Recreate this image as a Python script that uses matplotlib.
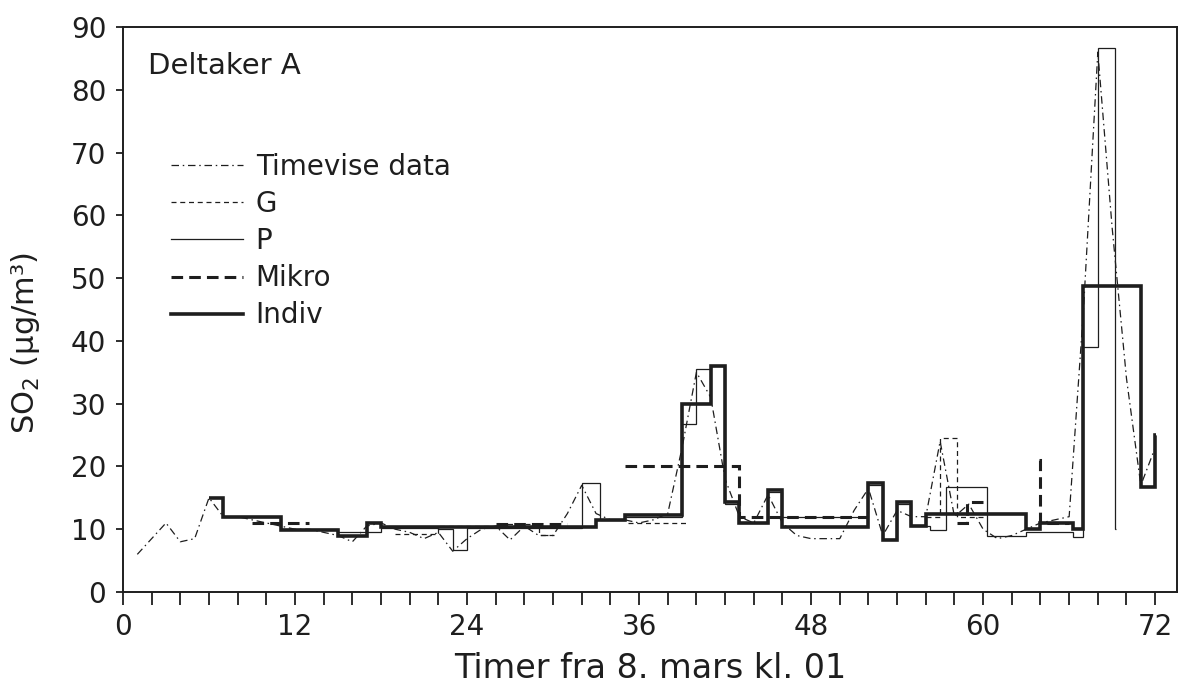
"""SO2 exposure for participant A: hourly data against the sampler series."""

import matplotlib

matplotlib.use("Agg")
import matplotlib.pyplot as plt
import numpy as np
from matplotlib.lines import Line2D
from matplotlib.ticker import MultipleLocator

INK = "#1e1e1e"

# Hourly station values, hour 1..72
HOURS = np.arange(1, 73)
TIMEVISE = [
    6, 8.5, 11, 8, 8.5, 15, 12, 12, 11.5, 11, 10.5, 10,
    10, 9.5, 9, 8, 10.5, 11, 10, 9.5, 8.5, 9.5, 6.5, 8.5,
    10, 10.5, 8.3, 10.5, 9, 9, 12.5, 17, 12.5, 11.5, 11.5, 11,
    11.5, 12.5, 23, 35, 31, 18, 12, 11, 15.5, 11, 9, 8.5,
    8.5, 8.5, 13, 16.5, 9, 13, 12, 12, 24, 12, 14, 10,
    8.5, 9, 10, 11, 11.5, 12, 45, 86, 58, 34, 17, 23,
]

# Sampler series as step functions: bin edges (hours) and levels (ug/m3)
G_EDGES = [19, 22, 26, 29, 30.1, 35.2, 39.3, 56, 57, 58.2, 60]
G_VALUES = [9.2, 10.5, 10.8, 9.1, np.nan, 11, np.nan, 12, 24.5, 12]

P_EDGES = [7, 11, 15, 18, 22, 23, 24, 32, 33.3, 35, 39, 40, 41, 42, 43, 45, 46,
           52, 53, 54, 55, 56.3, 57.4, 60.3, 63, 66.3, 67, 68, 69.2, 69.25]
P_VALUES = [12, 10, 9.5, 10.2, 10, 6.7, 10.2, 17.3, 11.5, 12, 26.7, 35.5, 36, 14,
            11, 16, 12, 17, 8.5, 14, 10.5, 9.8, 16.8, 9, 9.5, 8.8, 39, 86.7, 10]

MIKRO_EDGES = [9, 13, 26, 31, 35, 43, 52, 58.2, 58.9, 60, 63.9, 64, 66]
MIKRO_VALUES = [11, np.nan, 10.8, np.nan, 20, 12, np.nan, 11, 14.4, np.nan, 21, 11]

INDIV_EDGES = [6, 7, 11, 15, 17, 18, 33, 35, 39, 41, 42, 43, 45, 46, 52, 53, 54,
               55, 56, 63, 64, 66.3, 67, 71, 72, 72.05]
INDIV_VALUES = [15, 12, 9.9, 9.0, 11, 10.3, 11.5, 12.3, 30, 36, 14.3, 11, 16.3,
                10.3, 17.3, 8.3, 14.3, 10.5, 12.5, 10, 11, 10, 48.7, 16.7, 25]

LABELS = ["Timevise data", "G", "P", "Mikro", "Indiv"]

STYLES = {
    "Timevise data": dict(lw=0.9, ls=(0, (6, 3, 1.2, 3))),
    "G": dict(lw=0.9, ls=(0, (4, 3))),
    "P": dict(lw=0.9, ls="-"),
    "Mikro": dict(lw=2.2, ls=(0, (3.8, 2))),
    "Indiv": dict(lw=2.6, ls="-"),
}

plt.rcParams["font.family"] = "DejaVu Sans"

fig = plt.figure(figsize=(11.87, 6.86), dpi=100)
ax = fig.add_axes([0.1036, 0.137, 0.8877, 0.8237])

ax.plot(HOURS, TIMEVISE, color=INK, **STYLES["Timevise data"])
ax.stairs(G_VALUES, G_EDGES, color=INK, baseline=None, **STYLES["G"])
ax.stairs(P_VALUES, P_EDGES, color=INK, baseline=None, **STYLES["P"])
ax.stairs(MIKRO_VALUES, MIKRO_EDGES, color=INK, baseline=None, **STYLES["Mikro"])
ax.stairs(INDIV_VALUES, INDIV_EDGES, color=INK, baseline=None, **STYLES["Indiv"])

ax.set_xlim(0, 73.5)
ax.set_ylim(0, 90)
ax.xaxis.set_major_locator(MultipleLocator(12))
ax.xaxis.set_minor_locator(MultipleLocator(2))
ax.yaxis.set_major_locator(MultipleLocator(10))
ax.tick_params(axis="x", which="both", direction="out", length=9, width=1.3,
               colors=INK, labelsize=20, pad=6)
ax.tick_params(axis="y", direction="out", length=5, width=1.3, colors=INK,
               labelsize=20, pad=7)
for spine in ax.spines.values():
    spine.set_linewidth(1.4)
    spine.set_color(INK)

ax.set_xlabel("Timer fra 8. mars kl. 01", fontsize=24, color=INK, labelpad=8)
ax.set_ylabel("SO$_2$ (µg/m³)", fontsize=22, color=INK)
ax.yaxis.set_label_coords(-0.077, 0.44)

ax.text(0.024, 0.917, "Deltaker A", transform=ax.transAxes, fontsize=21,
        color=INK, va="baseline")

handles = [Line2D([], [], color=INK, **STYLES[k]) for k in LABELS]
ax.legend(handles, LABELS, loc="upper left", bbox_to_anchor=(0.035, 0.797),
          frameon=False, fontsize=20, handlelength=2.6, handletextpad=0.45,
          labelspacing=0.33, borderaxespad=0, labelcolor=INK)

fig.savefig("out.png", dpi=100, facecolor="white")
